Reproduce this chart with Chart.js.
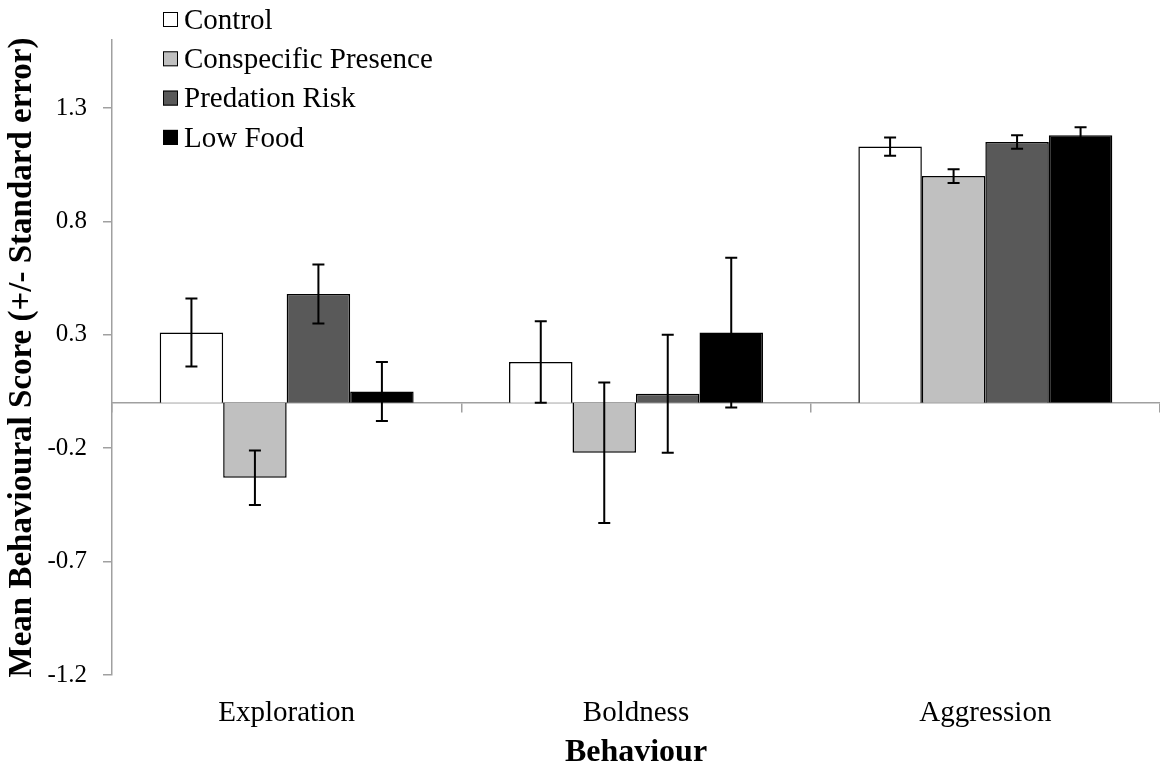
<!DOCTYPE html>
<html>
<head>
<meta charset="utf-8">
<script src="https://cdn.jsdelivr.net/npm/chart.js@4.4.0/dist/chart.umd.min.js"></script>
<style>
  html, body { margin: 0; padding: 0; background: #fff; }
  #wrap { width: 1160px; height: 769px; position: relative; }
</style>
</head>
<body>
<div id="wrap"><canvas id="chart"></canvas></div>
<script>
const categories = ['Exploration', 'Boldness', 'Aggression'];
const seriesNames = ['Control', 'Conspecific Presence', 'Predation Risk', 'Low Food'];

const control = [0.31, 0.18, 1.13];
const controlErr = [0.15, 0.18, 0.04];
const conspecific = [-0.33, -0.22, 1.00];
const conspecificErr = [0.12, 0.31, 0.03];
const predation = [0.48, 0.04, 1.15];
const predationErr = [0.13, 0.26, 0.03];
const lowFood = [0.05, 0.31, 1.18];
const lowFoodErr = [0.13, 0.33, 0.035];

const yTicks = [-1.2, -0.7, -0.2, 0.3, 0.8, 1.3];

const FONT = "'Liberation Serif', 'Times New Roman', serif";
const AXIS_GREY = '#a0a0a0';

// error bars, drawn on top of everything
const errorBars = {
    id: 'errorBars',
    afterDraw(chart) {
        const ctx = chart.ctx;
        const yScale = chart.scales.y;
        ctx.save();
        ctx.strokeStyle = '#000';
        ctx.lineWidth = 2;
        chart.data.datasets.forEach((ds, di) => {
            const meta = chart.getDatasetMeta(di);
            meta.data.forEach((bar, i) => {
                const v = ds.data[i], e = ds.errors[i];
                const x = bar.x;
                const yTop = yScale.getPixelForValue(v + e);
                const yBot = yScale.getPixelForValue(v - e);
                ctx.beginPath();
                ctx.moveTo(x, yTop); ctx.lineTo(x, yBot);
                ctx.moveTo(x - 6, yTop); ctx.lineTo(x + 6, yTop);
                ctx.moveTo(x - 6, yBot); ctx.lineTo(x + 6, yBot);
                ctx.stroke();
            });
        });
        ctx.restore();
    }
};

// stacked legend in the top left corner
const cornerLegend = {
    id: 'cornerLegend',
    afterDraw(chart) {
        const ctx = chart.ctx;
        ctx.save();
        ctx.font = '29px ' + FONT;
        ctx.textBaseline = 'middle';
        chart.data.datasets.forEach((ds, i) => {
            const cy = 20 + i * 39.3;
            ctx.fillStyle = ds.backgroundColor;
            ctx.fillRect(163, cy - 8, 15, 15);
            ctx.strokeStyle = '#000';
            ctx.lineWidth = 1;
            ctx.strokeRect(163.5, cy - 7.5, 14, 14);
            ctx.fillStyle = '#000';
            ctx.fillText(ds.label, 184, cy + 1);
        });
        ctx.restore();
    }
};

const fills = ['#ffffff', '#c0c0c0', '#595959', '#000000'];
const values = [control, conspecific, predation, lowFood];
const errs = [controlErr, conspecificErr, predationErr, lowFoodErr];

new Chart(document.getElementById('chart'), {
    type: 'bar',
    data: {
        labels: categories,
        datasets: seriesNames.map((name, i) => ({
            label: name,
            data: values[i],
            errors: errs[i],
            backgroundColor: fills[i],
            borderColor: '#000',
            borderWidth: 1.5,
            categoryPercentage: 0.727,
            barPercentage: 1.0
        }))
    },
    options: {
        responsive: true,
        maintainAspectRatio: false,
        animation: false,
        layout: { padding: { top: 40, left: 0, right: 0, bottom: 0 } },
        plugins: { legend: { display: false }, tooltip: { enabled: false } },
        scales: {
            x: {
                position: 'bottom',
                grid: { display: false },
                border: { display: false },
                ticks: { color: '#000', font: { family: FONT, size: 29 }, padding: 13 },
                title: {
                    display: true, text: 'Behaviour', color: '#000',
                    font: { family: FONT, size: 32, weight: 'bold', lineHeight: 1.0 },
                    padding: { top: 0, bottom: 0 }
                },
                afterFit(scale) { scale.height = 94; }
            },
            x2: {
                type: 'category',
                position: { y: 0 },
                z: 1,
                grid: { display: true, drawOnChartArea: false, drawTicks: true, tickLength: 9, color: AXIS_GREY, lineWidth: 1.5, offset: true },
                border: { display: true, color: AXIS_GREY, width: 1.5 },
                ticks: { display: false }
            },
            y: {
                min: -1.2,
                max: 1.6,
                afterBuildTicks(scale) { scale.ticks = yTicks.map(v => ({ value: v })); },
                grid: { display: true, drawOnChartArea: false, drawTicks: true, tickLength: 9, color: AXIS_GREY, lineWidth: 1.5 },
                border: { display: true, color: AXIS_GREY, width: 1.5 },
                ticks: {
                    color: '#000', font: { family: FONT, size: 25 }, padding: 16,
                    callback: v => v.toFixed(1)
                },
                title: {
                    display: true, text: 'Mean Behavioural Score (+/- Standard error)', color: '#000',
                    font: { family: FONT, size: 33, weight: 'bold', lineHeight: 1.2 },
                    padding: { top: 3, bottom: 0 }
                },
                afterFit(scale) { scale.width = 112; }
            }
        }
    },
    plugins: [errorBars, cornerLegend]
});
</script>
</body>
</html>
